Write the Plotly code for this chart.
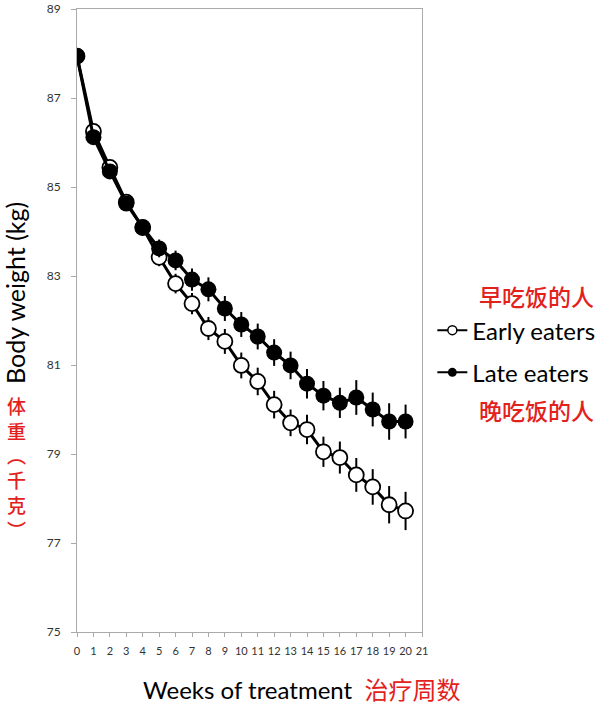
import plotly.graph_objects as go

# weeks of treatment
weeks = list(range(21))

# mean body weight (kg)
early_weight = [87.94, 86.25, 85.44, 84.66, 84.09, 83.42, 82.83, 82.38, 81.82, 81.53,
                80.99, 80.63, 80.11, 79.70, 79.55, 79.05, 78.92, 78.53, 78.26, 77.86, 77.72]
late_weight = [87.94, 86.12, 85.35, 84.63, 84.09, 83.62, 83.35, 82.92, 82.70, 82.27,
               81.91, 81.64, 81.28, 80.99, 80.58, 80.31, 80.15, 80.27, 80.00, 79.73, 79.73]

# error bars (kg)
early_err = [0.10, 0.12, 0.14, 0.15, 0.17, 0.20, 0.22, 0.24, 0.26, 0.28,
             0.29, 0.31, 0.31, 0.30, 0.33, 0.34, 0.36, 0.38, 0.40, 0.42, 0.43]
late_err = [0.10, 0.12, 0.14, 0.15, 0.17, 0.20, 0.22, 0.25, 0.27, 0.28,
            0.28, 0.29, 0.30, 0.31, 0.33, 0.33, 0.34, 0.39, 0.38, 0.41, 0.38]

y_ticks = [75, 77, 79, 81, 83, 85, 87, 89]
x_ticks = list(range(22))

RED = "#e3211c"
FONT = "Lato, 'Noto Sans CJK SC', sans-serif"
CJK = "'Noto Sans CJK SC', sans-serif"

fig = go.Figure()

# early eaters (open circles)
fig.add_trace(go.Scatter(
    x=weeks, y=early_weight,
    mode="lines+markers",
    name="Early eaters",
    showlegend=False,
    line=dict(color="black", width=3),
    marker=dict(symbol="circle", size=15, color="white",
                line=dict(color="black", width=1.8)),
    error_y=dict(type="data", array=early_err, color="black", thickness=2, width=0),
))

# late eaters (filled circles)
fig.add_trace(go.Scatter(
    x=weeks, y=late_weight,
    mode="lines+markers",
    name="Late eaters",
    showlegend=False,
    line=dict(color="black", width=3),
    marker=dict(symbol="circle", size=16, color="black",
                line=dict(color="black", width=0)),
    error_y=dict(type="data", array=late_err, color="black", thickness=2, width=0),
))

# legend-only entries with the small symbols used in the original key
fig.add_trace(go.Scatter(
    x=[None], y=[None], mode="lines+markers", name="Early eaters",
    legendgroup="early",
    line=dict(color="black", width=2),
    marker=dict(symbol="circle", size=9, color="white",
                line=dict(color="black", width=1.5)),
))
fig.add_trace(go.Scatter(
    x=[None], y=[None], mode="lines+markers", name="Late eaters",
    legendgroup="late",
    line=dict(color="black", width=2),
    marker=dict(symbol="circle", size=9, color="black"),
))

# layout
fig.update_layout(
    width=604, height=703,
    margin=dict(l=77, r=182, t=9, b=71, autoexpand=False),
    paper_bgcolor="white",
    plot_bgcolor="white",
    font=dict(family=FONT, color="#404040"),
    xaxis=dict(
        range=[0, 21],
        tickvals=x_ticks,
        ticktext=[str(t) for t in x_ticks],
        tickfont=dict(size=11, color="#333"),
        ticks="outside", ticklen=4, tickcolor="#aaa",
        ticklabelstandoff=5,
        showline=True, linecolor="#aaa", linewidth=1, mirror=True,
        showgrid=False, zeroline=False, automargin=False,
    ),
    yaxis=dict(
        range=[75, 89],
        tickvals=y_ticks,
        tickfont=dict(size=12, color="#333"),
        ticks="outside", ticklen=5, tickcolor="#aaa",
        ticklabelstandoff=8,
        showline=True, linecolor="#aaa", linewidth=1, mirror=True,
        showgrid=False, zeroline=False, automargin=False,
    ),
    showlegend=True,
    legend=dict(
        x=1.03, xanchor="left",
        y=0.52, yanchor="top",
        font=dict(family=FONT, size=24, color="black"),
        bgcolor="rgba(0,0,0,0)",
        itemwidth=30,
        tracegroupgap=8,
    ),
)

# axis titles
fig.add_annotation(
    xref="paper", yref="paper", x=-0.178, y=0.5436,
    xanchor="center", yanchor="middle",
    text="Body weight (kg)", textangle=-90, showarrow=False,
    font=dict(family=FONT, size=25, color="black"),
)
fig.add_annotation(
    xref="paper", yref="paper", x=0.651, y=-0.093,
    xanchor="center", yanchor="middle",
    text="Weeks of treatment  <span style='color:%s'>治疗周数</span>" % RED,
    showarrow=False,
    font=dict(family=FONT, size=24, color="black"),
)

# chinese caption stacked down the left side
fig.add_annotation(
    xref="paper", yref="paper", x=-0.174, y=0.264,
    xanchor="center", yanchor="middle",
    text="<br>".join("体重︵千克︶"), showarrow=False,
    font=dict(family=CJK, size=19, color=RED, weight=500),
)

# chinese captions around the legend
fig.add_annotation(
    xref="paper", yref="paper", x=1.333, y=0.540,
    xanchor="center", yanchor="middle",
    text="早吃饭的人", showarrow=False,
    font=dict(family=CJK, size=23, color=RED, weight=500),
)
fig.add_annotation(
    xref="paper", yref="paper", x=1.333, y=0.3565,
    xanchor="center", yanchor="middle",
    text="晚吃饭的人", showarrow=False,
    font=dict(family=CJK, size=23, color=RED, weight=500),
)

# drop the default page margin so the figure fills the window exactly
fig.write_html("out.html", config={"displayModeBar": False},
               post_script="document.body.style.margin='0';")
